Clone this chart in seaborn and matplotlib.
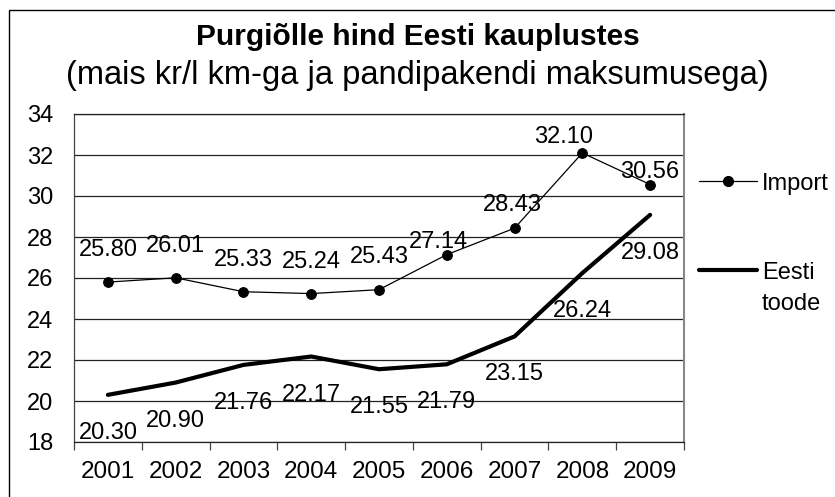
import numpy as np
import matplotlib.pyplot as plt
from matplotlib.lines import Line2D
from matplotlib.patches import Rectangle
from matplotlib.ticker import FixedLocator
import seaborn as sns

# Data
years = ['2001', '2002', '2003', '2004', '2005', '2006', '2007', '2008', '2009']
import_price = [25.80, 26.01, 25.33, 25.24, 25.43, 27.14, 28.43, 32.10, 30.56]
eesti_price = [20.30, 20.90, 21.76, 22.17, 21.55, 21.79, 23.15, 26.24, 29.08]

title = 'Purgiõlle hind Eesti kauplustes'
subtitle = '(mais kr/l km-ga ja pandipakendi maksumusega)'

sns.set_style('white')
plt.rcParams['font.family'] = ['Liberation Sans', 'DejaVu Sans']
plt.rcParams['text.color'] = 'black'
plt.rcParams['xtick.color'] = 'black'
plt.rcParams['ytick.color'] = 'black'

W, H = 835, 497
fig = plt.figure(figsize=(W / 100, H / 100), dpi=100)
ax = fig.add_axes([74 / W, 1 - 442 / H, (684 - 74) / W, (442 - 114) / H])

pos = np.arange(len(years))

sns.lineplot(x=pos, y=import_price, color='black', linewidth=0.9, marker='o',
             markersize=7, markeredgecolor='black', ax=ax)
sns.lineplot(x=pos, y=eesti_price, color='black', linewidth=3.0, ax=ax)

# data labels (pixel offsets, manually placed in the original)
px = 0.72
imp_dx = [0, 0, 0, 0, 0, -8, -2, -19, 0]
imp_dy = [26, 26, 26, 26, 27, 7, 17, 10, 7]
for i, v in enumerate(import_price):
    ax.annotate(f'{v:.2f}', (pos[i], v), xytext=(imp_dx[i] * px, imp_dy[i] * px),
                textcoords='offset points', ha='center', va='baseline', fontsize=17)
for i, v in enumerate(eesti_price):
    ax.annotate(f'{v:.2f}', (pos[i], v), xytext=(0, -44 * px),
                textcoords='offset points', ha='center', va='baseline', fontsize=17)

ax.set_xlim(-0.5, len(years) - 0.5)
ax.set_ylim(18, 34)
ax.set_yticks(np.arange(18, 35, 2))
ax.set_xticks(pos)
ax.set_xticklabels(years)
ax.xaxis.set_minor_locator(FixedLocator(np.arange(-0.5, len(years), 1)))

ax.grid(axis='y', color='#222222', linewidth=0.9)
ax.grid(axis='x', visible=False)
ax.tick_params(axis='y', which='major', direction='out', length=6, width=0.9,
               color='#444444', pad=9, labelsize=17)
ax.tick_params(axis='x', which='major', length=0, pad=14, labelsize=17.5)
ax.tick_params(axis='x', which='minor', direction='out', length=6, width=0.9,
               color='#444444', bottom=True)

ax.spines['left'].set_color('#444444')
ax.spines['bottom'].set_color('#222222')
ax.spines['top'].set_color('#222222')
ax.spines['right'].set_color('#888888')
ax.spines['right'].set_linewidth(1.5)
for s in ['left', 'bottom', 'top']:
    ax.spines[s].set_linewidth(0.9)

# titles
fig.text(0.5, 1 - 45 / H, title, ha='center', va='baseline',
         fontsize=21.5, fontweight='bold')
fig.text(0.5, 1 - 84 / H, subtitle, ha='center', va='baseline', fontsize=23.5)

# legend drawn at the spot the original uses
fig.add_artist(Line2D([699 / W, 757 / W], [1 - 181 / H, 1 - 181 / H], color='black',
                      linewidth=0.9, transform=fig.transFigure))
fig.add_artist(Line2D([728 / W], [1 - 181 / H], marker='o', markersize=7, color='black',
                      transform=fig.transFigure))
fig.text(762 / W, 1 - 190 / H, 'Import', ha='left', va='baseline', fontsize=17)
fig.add_artist(Line2D([699 / W, 757 / W], [1 - 270 / H, 1 - 270 / H], color='black',
                      linewidth=3.0, transform=fig.transFigure))
fig.text(762 / W, 1 - 279 / H, 'Eesti', ha='left', va='baseline', fontsize=17)
fig.text(762 / W, 1 - 310 / H, 'toode', ha='left', va='baseline', fontsize=17)

# chart area border
fig.add_artist(Rectangle((9 / W, -0.1), 1.2, 1 - 10 / H + 0.1, fill=False,
                         edgecolor='black', linewidth=1.0, transform=fig.transFigure))

fig.savefig('out.png', dpi=100)
